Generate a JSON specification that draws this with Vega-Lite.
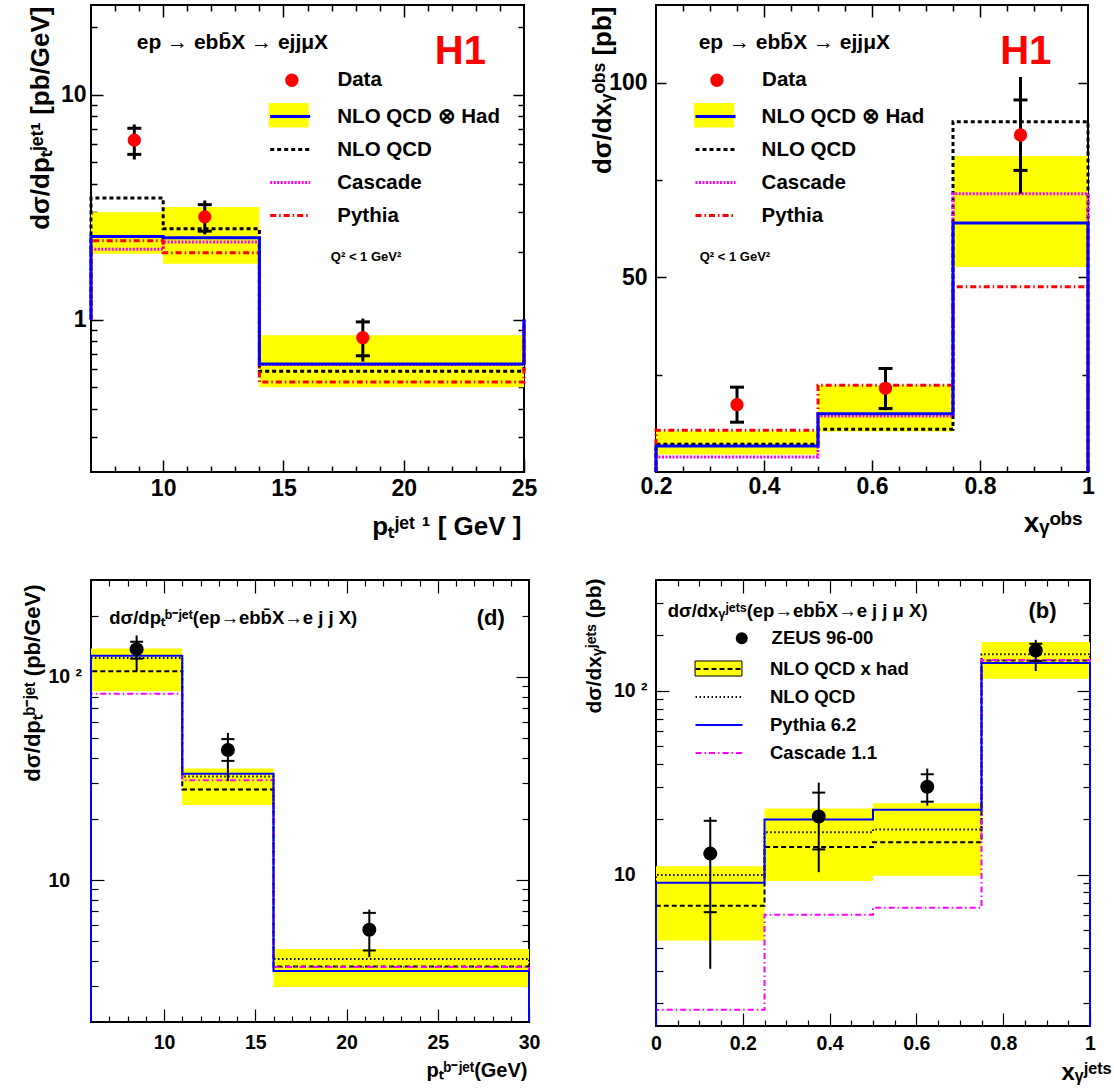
{
"$schema":"https://vega.github.io/schema/vega-lite/v6.json",
"padding":{"left":19,"top":3,"right":0,"bottom":0},
"background":"white",
"config":{
 "font":"Liberation Sans",
 "view":{"stroke":"black","strokeWidth":2},
 "axis":{"domain":false,"grid":false,"tickColor":"black","labelColor":"black","labelFont":"Liberation Sans","labelFontWeight":"bold","titleFont":"Liberation Sans","titleFontWeight":"bold","titleColor":"black","labelFlush":false,"labelOverlap":false,"labelBound":false,"zindex":1},
 "legend":{"labelFont":"Liberation Sans","labelFontWeight":"bold","labelColor":"black","labelLimit":500,"padding":0,"symbolOpacity":1},
 "text":{"font":"Liberation Sans","fontWeight":"bold","color":"black"}
},
"columns":2,
"spacing":{"row":108,"column":127},
"bounds":"flush",
"resolve":{"scale":{"x":"independent","y":"independent","stroke":"independent","strokeDash":"independent","fill":"independent","shape":"independent"},"legend":{"stroke":"independent","strokeDash":"independent","fill":"independent","shape":"independent"},"axis":{"x":"independent","y":"independent"}},
"concat":[
{
 "width":433,"height":467,
 "resolve":{"axis":{"x":"independent","y":"independent"}},
 "layer":[
  {"data":{"name":"aB"},"mark":{"type":"rect","color":"#ffff00"},
   "encoding":{
    "x":{"field":"lo","type":"quantitative","scale":{"domain":[7,25],"nice":false,"zero":false},
      "axis":{"orient":"bottom","values":[10,15,20,25],"format":"d","tickSize":-12,"tickWidth":1.5,"labelPadding":17,"labelFontSize":23,
       "title":"pₜʲᵉᵗ ¹ [ GeV ]","titleFontSize":26,"titleX":430,"titleY":62,"titleAlign":"right","titleBaseline":"alphabetic","titleAngle":0}},
    "x2":{"field":"hi"},
    "y":{"field":"bl","type":"quantitative","scale":{"type":"log","domain":[0.21,25],"nice":false},
      "axis":{"orient":"left","values":[1,10],"format":"d","tickSize":-12,"tickWidth":1.5,"labelPadding":17,"labelFontSize":23,
       "title":"dσ/dpₜʲᵉᵗ¹ [pb/GeV]","titleFontSize":26,"titleX":-43,"titleY":1,"titleAngle":-90,"titleAlign":"right","titleBaseline":"alphabetic"}},
    "y2":{"field":"bh"},
    "fill":{"datum":"NLO QCD ⊗ Had","type":"nominal","scale":{"domain":["NLO QCD ⊗ Had"],"range":["#ffff00"]},
      "legend":{"orient":"none","legendX":177.7,"legendY":90.3,"direction":"vertical","title":null,"symbolType":"M-1,-0.61H1V0.61H-1Z","symbolSize":1600,"symbolStrokeWidth":0,"labelFontSize":20.5,"labelOffset":25.6,"labelExpr":"''"}}
   }},
  {"data":{"name":"aH"},"mark":{"type":"line","interpolate":"step-before","strokeWidth":3},
   "encoding":{
    "x":{"field":"x","type":"quantitative","scale":{"domain":[7,25],"nice":false,"zero":false},
      "axis":{"orient":"bottom","values":[8,9,11,12,13,14,16,17,18,19,21,22,23,24],"tickSize":-6,"tickWidth":1.5,"labels":false,"title":null}},
    "y":{"field":"y","type":"quantitative","scale":{"type":"log","domain":[0.21,25],"nice":false},
      "axis":{"orient":"left","values":[0.3,0.4,0.5,0.6,0.7,0.8,0.9,2,3,4,5,6,7,8,9,20],"tickSize":-6,"tickWidth":1.5,"labels":false,"title":null}},
    "order":{"field":"i","type":"quantitative"},
    "stroke":{"field":"s","type":"nominal","scale":{"domain":["NLO QCD ⊗ Had","NLO QCD","Cascade","Pythia"],"range":["#0000ff","#000000","#ff00ff","#ff0000"]},
      "legend":{"orient":"none","legendX":177.7,"legendY":90,"direction":"vertical","title":null,"symbolType":"stroke","symbolSize":1600,"symbolStrokeWidth":3,"labelFontSize":20.5,"labelOffset":25.6,"rowPadding":1}},
    "strokeDash":{"field":"s","type":"nominal","scale":{"domain":["NLO QCD ⊗ Had","NLO QCD","Cascade","Pythia"],"range":[[1,0],[4,3],[2,1.5],[6,3,1.5,3]]}}
   }},
  {"data":{"name":"aD"},"mark":{"type":"rule","color":"black","strokeWidth":3},
   "encoding":{
    "x":{"field":"x","type":"quantitative","scale":{"domain":[7,25],"nice":false,"zero":false},
      "axis":{"orient":"top","values":[10,15,20],"tickSize":-12,"tickWidth":1.5,"labels":false,"title":null}},
    "y":{"field":"tl","type":"quantitative","scale":{"type":"log","domain":[0.21,25],"nice":false},
      "axis":{"orient":"right","values":[1,10],"tickSize":-11,"tickWidth":1.5,"labels":false,"title":null}},
    "y2":{"field":"th"}
   }},
  {"data":{"name":"aD"},"transform":[{"fold":["sl","sh"],"as":["k","v"]}],
   "mark":{"type":"tick","orient":"horizontal","color":"black","size":14,"thickness":3,"opacity":1},
   "encoding":{
    "x":{"field":"x","type":"quantitative","scale":{"domain":[7,25],"nice":false,"zero":false},
      "axis":{"orient":"top","values":[8,9,11,12,13,14,16,17,18,19,21,22,23,24],"tickSize":-6,"tickWidth":1.5,"labels":false,"title":null}},
    "y":{"field":"v","type":"quantitative","scale":{"type":"log","domain":[0.21,25],"nice":false},
      "axis":{"orient":"right","values":[0.3,0.4,0.5,0.6,0.7,0.8,0.9,2,3,4,5,6,7,8,9,20],"tickSize":-6,"tickWidth":1.5,"labels":false,"title":null}}
   }},
  {"data":{"name":"aD"},"mark":{"type":"point","shape":"circle","filled":true,"color":"#ff0000","size":177,"opacity":1,"strokeWidth":0},
   "encoding":{
    "x":{"field":"x","type":"quantitative","scale":{"domain":[7,25],"nice":false,"zero":false},"axis":null},
    "y":{"field":"y","type":"quantitative","scale":{"type":"log","domain":[0.21,25],"nice":false},"axis":null},
    "shape":{"datum":"Data","type":"nominal","scale":{"domain":["Data"],"range":["circle"]},
      "legend":{"orient":"none","legendX":190.6,"legendY":65,"direction":"vertical","title":null,"symbolSize":177,"symbolFillColor":"#ff0000","symbolStrokeWidth":0,"labelFontSize":20.5,"labelOffset":35.3}}
   }},
  {"data":{"values":[{}]},"mark":{"type":"text","align":"left","baseline":"middle","fontSize":21,"text":"ep → ebb̄X → ejjμX"},
   "encoding":{"x":{"datum":8.9,"type":"quantitative","scale":{"domain":[7,25],"nice":false,"zero":false},"axis":null},
    "y":{"datum":16.9,"type":"quantitative","scale":{"type":"log","domain":[0.21,25],"nice":false},"axis":null}}},
  {"data":{"values":[{}]},"mark":{"type":"text","align":"right","baseline":"middle","fontSize":40,"color":"#ff0000","text":"H1"},
   "encoding":{"x":{"datum":23.42,"type":"quantitative","scale":{"domain":[7,25],"nice":false,"zero":false},"axis":null},
    "y":{"datum":15.45,"type":"quantitative","scale":{"type":"log","domain":[0.21,25],"nice":false},"axis":null}}},
  {"data":{"values":[{}]},"mark":{"type":"text","align":"left","baseline":"middle","fontSize":13,"text":"Q² < 1 GeV²"},
   "encoding":{"x":{"datum":16.97,"type":"quantitative","scale":{"domain":[7,25],"nice":false,"zero":false},"axis":null},
    "y":{"datum":1.89,"type":"quantitative","scale":{"type":"log","domain":[0.21,25],"nice":false},"axis":null}}}
 ]
},
{
 "width":432,"height":467,
 "resolve":{"axis":{"x":"independent","y":"independent"}},
 "layer":[
  {"data":{"name":"bB"},"mark":{"type":"rect","color":"#ffff00"},
   "encoding":{
    "x":{"field":"lo","type":"quantitative","scale":{"domain":[0.2,1],"nice":false,"zero":false},
      "axis":{"orient":"bottom","values":[0.2,0.4,0.6,0.8,1],"format":"~g","tickSize":-12,"tickWidth":1.5,"labelPadding":15,"labelFontSize":23,
       "title":"xᵧᵒᵇˢ","titleFontSize":28,"titleX":426,"titleY":59,"titleAlign":"right","titleBaseline":"alphabetic","titleAngle":0}},
    "x2":{"field":"hi"},
    "y":{"field":"bl","type":"quantitative","scale":{"domain":[0,120],"nice":false,"zero":false},
      "axis":{"orient":"left","values":[50,100],"format":"d","tickSize":-10,"tickWidth":1.5,"labelPadding":19,"labelFontSize":23,
       "title":"dσ/dxᵧᵒᵇˢ  [pb]","titleFontSize":26,"titleX":-46,"titleY":1,"titleAngle":-90,"titleAlign":"right","titleBaseline":"alphabetic"}},
    "y2":{"field":"bh"},
    "fill":{"datum":"NLO QCD ⊗ Had","type":"nominal","scale":{"domain":["NLO QCD ⊗ Had"],"range":["#ffff00"]},
      "legend":{"orient":"none","legendX":38,"legendY":90.3,"direction":"vertical","title":null,"symbolType":"M-1,-0.61H1V0.61H-1Z","symbolSize":1600,"symbolStrokeWidth":0,"labelFontSize":20.5,"labelOffset":24.6,"labelExpr":"''"}}
   }},
  {"data":{"name":"bH"},"mark":{"type":"line","interpolate":"step-before","strokeWidth":3},
   "encoding":{
    "x":{"field":"x","type":"quantitative","scale":{"domain":[0.2,1],"nice":false,"zero":false},
      "axis":{"orient":"bottom","values":[0.25,0.3,0.35,0.45,0.5,0.55,0.65,0.7,0.75,0.85,0.9,0.95],"tickSize":-6,"tickWidth":1.5,"labels":false,"title":null}},
    "y":{"field":"y","type":"quantitative","scale":{"domain":[0,120],"nice":false,"zero":false},
      "axis":{"orient":"left","values":[25,75],"tickSize":-6,"tickWidth":1.5,"labels":false,"title":null}},
    "order":{"field":"i","type":"quantitative"},
    "stroke":{"field":"s","type":"nominal","scale":{"domain":["NLO QCD ⊗ Had","NLO QCD","Cascade","Pythia"],"range":["#0000ff","#000000","#ff00ff","#ff0000"]},
      "legend":{"orient":"none","legendX":38,"legendY":90,"direction":"vertical","title":null,"symbolType":"stroke","symbolSize":1600,"symbolStrokeWidth":3,"labelFontSize":20.5,"labelOffset":24.6,"rowPadding":1}},
    "strokeDash":{"field":"s","type":"nominal","scale":{"domain":["NLO QCD ⊗ Had","NLO QCD","Cascade","Pythia"],"range":[[1,0],[4,3],[2,1.5],[6,3,1.5,3]]}}
   }},
  {"data":{"name":"bD"},"mark":{"type":"rule","color":"black","strokeWidth":3},
   "encoding":{
    "x":{"field":"x","type":"quantitative","scale":{"domain":[0.2,1],"nice":false,"zero":false},
      "axis":{"orient":"top","values":[0.4,0.6,0.8],"tickSize":-12,"tickWidth":1.5,"labels":false,"title":null}},
    "y":{"field":"tl","type":"quantitative","scale":{"domain":[0,120],"nice":false,"zero":false},
      "axis":{"orient":"right","values":[50,100],"tickSize":-10,"tickWidth":1.5,"labels":false,"title":null}},
    "y2":{"field":"th"}
   }},
  {"data":{"name":"bD"},"transform":[{"fold":["sl","sh"],"as":["k","v"]}],
   "mark":{"type":"tick","orient":"horizontal","color":"black","size":14,"thickness":3,"opacity":1},
   "encoding":{
    "x":{"field":"x","type":"quantitative","scale":{"domain":[0.2,1],"nice":false,"zero":false},
      "axis":{"orient":"top","values":[0.25,0.3,0.35,0.45,0.5,0.55,0.65,0.7,0.75,0.85,0.9,0.95],"tickSize":-6,"tickWidth":1.5,"labels":false,"title":null}},
    "y":{"field":"v","type":"quantitative","scale":{"domain":[0,120],"nice":false,"zero":false},
      "axis":{"orient":"right","values":[25,75],"tickSize":-6,"tickWidth":1.5,"labels":false,"title":null}}
   }},
  {"data":{"name":"bD"},"mark":{"type":"point","shape":"circle","filled":true,"color":"#ff0000","size":177,"opacity":1,"strokeWidth":0},
   "encoding":{
    "x":{"field":"x","type":"quantitative","scale":{"domain":[0.2,1],"nice":false,"zero":false},"axis":null},
    "y":{"field":"y","type":"quantitative","scale":{"domain":[0,120],"nice":false,"zero":false},"axis":null},
    "shape":{"datum":"Data","type":"nominal","scale":{"domain":["Data"],"range":["circle"]},
      "legend":{"orient":"none","legendX":50.7,"legendY":65,"direction":"vertical","title":null,"symbolSize":177,"symbolFillColor":"#ff0000","symbolStrokeWidth":0,"labelFontSize":20.5,"labelOffset":34.9}}
   }},
  {"data":{"values":[{}]},"mark":{"type":"text","align":"left","baseline":"middle","fontSize":21,"text":"ep → ebb̄X → ejjμX"},
   "encoding":{"x":{"datum":0.279,"type":"quantitative","scale":{"domain":[0.2,1],"nice":false,"zero":false},"axis":null},
    "y":{"datum":110.2,"type":"quantitative","scale":{"domain":[0,120],"nice":false,"zero":false},"axis":null}}},
  {"data":{"values":[{}]},"mark":{"type":"text","align":"right","baseline":"middle","fontSize":40,"color":"#ff0000","text":"H1"},
   "encoding":{"x":{"datum":0.932,"type":"quantitative","scale":{"domain":[0.2,1],"nice":false,"zero":false},"axis":null},
    "y":{"datum":108,"type":"quantitative","scale":{"domain":[0,120],"nice":false,"zero":false},"axis":null}}},
  {"data":{"values":[{}]},"mark":{"type":"text","align":"left","baseline":"middle","fontSize":13,"text":"Q² < 1 GeV²"},
   "encoding":{"x":{"datum":0.281,"type":"quantitative","scale":{"domain":[0.2,1],"nice":false,"zero":false},"axis":null},
    "y":{"datum":55.2,"type":"quantitative","scale":{"domain":[0,120],"nice":false,"zero":false},"axis":null}}}
 ]
},
{
 "width":438,"height":442,
 "resolve":{"axis":{"x":"independent","y":"independent"}},
 "layer":[
  {"data":{"name":"cB"},"mark":{"type":"rect","color":"#ffff00"},
   "encoding":{
    "x":{"field":"lo","type":"quantitative","scale":{"domain":[6,30],"nice":false,"zero":false},
      "axis":{"orient":"bottom","values":[10,15,20,25,30],"format":"d","tickSize":-13,"tickWidth":1.2,"labelPadding":24,"labelFontSize":19.5,
       "title":"pₜᵇ⁻ʲᵉᵗ(GeV)","titleFontSize":20,"titleX":436,"titleY":54,"titleAlign":"right","titleBaseline":"alphabetic","titleAngle":0}},
    "x2":{"field":"hi"},
    "y":{"field":"bl","type":"quantitative","scale":{"type":"log","domain":[2,300],"nice":false},
      "axis":{"orient":"left","values":[10,100],"labelExpr":"datum.value >= 100 ? '10 ²' : '10'","labelAlign":"left","tickSize":-13,"tickWidth":1.2,"labelPadding":56,"labelFontSize":19.5,
       "title":"dσ/dpₜᵇ⁻ʲᵉᵗ (pb/GeV)","titleFontSize":22,"titleX":-52,"titleY":4,"titleAngle":-90,"titleAlign":"right","titleBaseline":"alphabetic"}},
    "y2":{"field":"bh"}
   }},
  {"data":{"name":"cH"},"mark":{"type":"line","interpolate":"step-before","strokeWidth":2},
   "encoding":{
    "x":{"field":"x","type":"quantitative","scale":{"domain":[6,30],"nice":false,"zero":false},
      "axis":{"orient":"bottom","values":[7,8,9,11,12,13,14,16,17,18,19,21,22,23,24,26,27,28,29],"tickSize":-6,"tickWidth":1.2,"labels":false,"title":null}},
    "y":{"field":"y","type":"quantitative","scale":{"type":"log","domain":[2,300],"nice":false},
      "axis":{"orient":"left","values":[3,4,5,6,7,8,9,20,30,40,50,60,70,80,90,200],"tickSize":-7,"tickWidth":1.2,"labels":false,"title":null}},
    "order":{"field":"i","type":"quantitative"},
    "stroke":{"field":"s","type":"nominal","scale":{"domain":["NLO QCD x had","NLO QCD","Pythia 6.2","Cascade 1.1"],"range":["#000000","#000000","#0000ff","#ff00ff"]},"legend":null},
    "strokeDash":{"field":"s","type":"nominal","scale":{"domain":["NLO QCD x had","NLO QCD","Pythia 6.2","Cascade 1.1"],"range":[[5,3],[1.5,2.5],[1,0],[6,3,1.5,3]]},"legend":null}
   }},
  {"data":{"name":"cD"},"mark":{"type":"rule","color":"black","strokeWidth":2},
   "encoding":{
    "x":{"field":"x","type":"quantitative","scale":{"domain":[6,30],"nice":false,"zero":false},
      "axis":{"orient":"top","values":[10,15,20,25],"tickSize":-13,"tickWidth":1.2,"labels":false,"title":null}},
    "y":{"field":"tl","type":"quantitative","scale":{"type":"log","domain":[2,300],"nice":false},
      "axis":{"orient":"right","values":[10,100],"tickSize":-13,"tickWidth":1.2,"labels":false,"title":null}},
    "y2":{"field":"th"}
   }},
  {"data":{"name":"cD"},"transform":[{"fold":["sl","sh"],"as":["k","v"]}],
   "mark":{"type":"tick","orient":"horizontal","color":"black","size":13,"thickness":2,"opacity":1},
   "encoding":{
    "x":{"field":"x","type":"quantitative","scale":{"domain":[6,30],"nice":false,"zero":false},
      "axis":{"orient":"top","values":[7,8,9,11,12,13,14,16,17,18,19,21,22,23,24,26,27,28,29],"tickSize":-6,"tickWidth":1.2,"labels":false,"title":null}},
    "y":{"field":"v","type":"quantitative","scale":{"type":"log","domain":[2,300],"nice":false},
      "axis":{"orient":"right","values":[3,4,5,6,7,8,9,20,30,40,50,60,70,80,90,200],"tickSize":-7,"tickWidth":1.2,"labels":false,"title":null}}
   }},
  {"data":{"name":"cD"},"mark":{"type":"point","shape":"circle","filled":true,"color":"#000000","size":196,"opacity":1,"strokeWidth":0},
   "encoding":{
    "x":{"field":"x","type":"quantitative","scale":{"domain":[6,30],"nice":false,"zero":false},"axis":null},
    "y":{"field":"y","type":"quantitative","scale":{"type":"log","domain":[2,300],"nice":false},"axis":null}
   }},
  {"data":{"values":[{}]},"mark":{"type":"text","align":"left","baseline":"middle","fontSize":18.5,"text":"dσ/dpₜᵇ⁻ʲᵉᵗ(ep→ebb̄X→e j j X)"},
   "encoding":{"x":{"datum":7.0,"type":"quantitative","scale":{"domain":[6,30],"nice":false,"zero":false},"axis":null},
    "y":{"datum":195,"type":"quantitative","scale":{"type":"log","domain":[2,300],"nice":false},"axis":null}}},
  {"data":{"values":[{}]},"mark":{"type":"text","align":"right","baseline":"middle","fontSize":22,"text":"(d)"},
   "encoding":{"x":{"datum":28.67,"type":"quantitative","scale":{"domain":[6,30],"nice":false,"zero":false},"axis":null},
    "y":{"datum":195,"type":"quantitative","scale":{"type":"log","domain":[2,300],"nice":false},"axis":null}}}
 ]
},
{
 "width":434,"height":446,
 "resolve":{"axis":{"x":"independent","y":"independent"}},
 "layer":[
  {"data":{"name":"dB"},"mark":{"type":"rect","color":"#ffff00"},
   "encoding":{
    "x":{"field":"lo","type":"quantitative","scale":{"domain":[0,1],"nice":false,"zero":false},
      "axis":{"orient":"bottom","values":[0,0.2,0.4,0.6,0.8,1],"format":"~g","tickSize":-13,"tickWidth":1.2,"labelPadding":21,"labelFontSize":19.5,
       "title":"xᵧʲᵉᵗˢ","titleFontSize":24,"titleX":455,"titleY":53,"titleAlign":"right","titleBaseline":"alphabetic","titleAngle":0}},
    "x2":{"field":"hi"},
    "y":{"field":"bl","type":"quantitative","scale":{"type":"log","domain":[1.5,400],"nice":false},
      "axis":{"orient":"left","values":[10,100],"labelExpr":"datum.value >= 100 ? '10 ²' : '10'","labelAlign":"left","tickSize":-13,"tickWidth":1.2,"labelPadding":55.6,"labelFontSize":19.5,
       "title":"dσ/dxᵧʲᵉᵗˢ (pb)","titleFontSize":21,"titleX":-56,"titleY":-2,"titleAngle":-90,"titleAlign":"right","titleBaseline":"alphabetic"}},
    "y2":{"field":"bh"},
    "fill":{"datum":"NLO QCD x had","type":"nominal","scale":{"domain":["NLO QCD x had"],"range":["#ffff00"]},
      "legend":{"orient":"none","legendX":44.5,"legendY":70.5,"direction":"vertical","title":null,"symbolType":"M-1.34,-0.43H1.34V0.43H-1.34Z","symbolSize":1225,"symbolStrokeColor":"#000000","symbolStrokeWidth":1,"labelFontSize":18.5,"labelOffset":32.5,"labelExpr":"''"}}
   }},
  {"data":{"name":"dH"},"mark":{"type":"line","interpolate":"step-before","strokeWidth":2},
   "encoding":{
    "x":{"field":"x","type":"quantitative","scale":{"domain":[0,1],"nice":false,"zero":false},
      "axis":{"orient":"bottom","values":[0.05,0.1,0.15,0.25,0.3,0.35,0.45,0.5,0.55,0.65,0.7,0.75,0.85,0.9,0.95],"tickSize":-6,"tickWidth":1.2,"labels":false,"title":null}},
    "y":{"field":"y","type":"quantitative","scale":{"type":"log","domain":[1.5,400],"nice":false},
      "axis":{"orient":"left","values":[2,3,4,5,6,7,8,9,20,30,40,50,60,70,80,90,200,300],"tickSize":-7,"tickWidth":1.2,"labels":false,"title":null}},
    "order":{"field":"i","type":"quantitative"},
    "stroke":{"field":"s","type":"nominal","scale":{"domain":["NLO QCD x had","NLO QCD","Pythia 6.2","Cascade 1.1"],"range":["#000000","#000000","#0000ff","#ff00ff"]},
      "legend":{"orient":"none","legendX":44.5,"legendY":70.5,"direction":"vertical","title":null,"symbolType":"M-1.34,0H1.34","symbolSize":1225,"symbolStrokeWidth":2,"symbolFillColor":"transparent","labelFontSize":18.5,"labelOffset":32.5,"rowPadding":0}},
    "strokeDash":{"field":"s","type":"nominal","scale":{"domain":["NLO QCD x had","NLO QCD","Pythia 6.2","Cascade 1.1"],"range":[[5,3],[1.5,2.5],[1,0],[6,3,1.5,3]]}}
   }},
  {"data":{"name":"dD"},"mark":{"type":"rule","color":"black","strokeWidth":2},
   "encoding":{
    "x":{"field":"x","type":"quantitative","scale":{"domain":[0,1],"nice":false,"zero":false},
      "axis":{"orient":"top","values":[0.2,0.4,0.6,0.8],"tickSize":-13,"tickWidth":1.2,"labels":false,"title":null}},
    "y":{"field":"tl","type":"quantitative","scale":{"type":"log","domain":[1.5,400],"nice":false},
      "axis":{"orient":"right","values":[10,100],"tickSize":-13,"tickWidth":1.2,"labels":false,"title":null}},
    "y2":{"field":"th"}
   }},
  {"data":{"name":"dD"},"transform":[{"fold":["sl","sh"],"as":["k","v"]}],
   "mark":{"type":"tick","orient":"horizontal","color":"black","size":13,"thickness":2,"opacity":1},
   "encoding":{
    "x":{"field":"x","type":"quantitative","scale":{"domain":[0,1],"nice":false,"zero":false},
      "axis":{"orient":"top","values":[0.05,0.1,0.15,0.25,0.3,0.35,0.45,0.5,0.55,0.65,0.7,0.75,0.85,0.9,0.95],"tickSize":-6,"tickWidth":1.2,"labels":false,"title":null}},
    "y":{"field":"v","type":"quantitative","scale":{"type":"log","domain":[1.5,400],"nice":false},
      "axis":{"orient":"right","values":[2,3,4,5,6,7,8,9,20,30,40,50,60,70,80,90,200,300],"tickSize":-7,"tickWidth":1.2,"labels":false,"title":null}}
   }},
  {"data":{"name":"dD"},"mark":{"type":"point","shape":"circle","filled":true,"color":"#000000","size":196,"opacity":1,"strokeWidth":0},
   "encoding":{
    "x":{"field":"x","type":"quantitative","scale":{"domain":[0,1],"nice":false,"zero":false},"axis":null},
    "y":{"field":"y","type":"quantitative","scale":{"type":"log","domain":[1.5,400],"nice":false},"axis":null},
    "shape":{"datum":"ZEUS 96-00","type":"nominal","scale":{"domain":["ZEUS 96-00"],"range":["circle"]},
      "legend":{"orient":"none","legendX":76.5,"legendY":49,"direction":"vertical","title":null,"symbolSize":144,"symbolFillColor":"#000000","symbolStrokeWidth":0,"labelFontSize":18.5,"labelOffset":20.6}}
   }},
  {"data":{"values":[{}]},"mark":{"type":"text","align":"left","baseline":"middle","fontSize":18.5,"text":"dσ/dxᵧʲᵉᵗˢ(ep→ebb̄X→e j j μ X)"},
   "encoding":{"x":{"datum":0.027,"type":"quantitative","scale":{"domain":[0,1],"nice":false,"zero":false},"axis":null},
    "y":{"datum":271,"type":"quantitative","scale":{"type":"log","domain":[1.5,400],"nice":false},"axis":null}}},
  {"data":{"values":[{}]},"mark":{"type":"text","align":"right","baseline":"middle","fontSize":22,"text":"(b)"},
   "encoding":{"x":{"datum":0.923,"type":"quantitative","scale":{"domain":[0,1],"nice":false,"zero":false},"axis":null},
    "y":{"datum":271,"type":"quantitative","scale":{"type":"log","domain":[1.5,400],"nice":false},"axis":null}}}
 ]
}
],
"datasets":{
 "aB":[{"lo":7,"hi":10,"bl":1.96,"bh":3.0},{"lo":10,"hi":14,"bl":1.77,"bh":3.16},{"lo":14,"hi":25,"bl":0.5,"bh":0.851}],
 "aH":[
  {"s":"NLO QCD","i":0,"x":7,"y":1},{"s":"NLO QCD","i":1,"x":10,"y":3.47},{"s":"NLO QCD","i":2,"x":14,"y":2.53},{"s":"NLO QCD","i":3,"x":25,"y":0.589},{"s":"NLO QCD","i":4,"x":25,"y":1},
  {"s":"Cascade","i":0,"x":7,"y":1},{"s":"Cascade","i":1,"x":10,"y":2.05},{"s":"Cascade","i":2,"x":14,"y":2.21},{"s":"Cascade","i":3,"x":25,"y":0.631},{"s":"Cascade","i":4,"x":25,"y":1},
  {"s":"Pythia","i":0,"x":7,"y":1},{"s":"Pythia","i":1,"x":10,"y":2.24},{"s":"Pythia","i":2,"x":14,"y":1.98},{"s":"Pythia","i":3,"x":25,"y":0.527},{"s":"Pythia","i":4,"x":25,"y":1},
  {"s":"NLO QCD ⊗ Had","i":0,"x":7,"y":1},{"s":"NLO QCD ⊗ Had","i":1,"x":10,"y":2.34},{"s":"NLO QCD ⊗ Had","i":2,"x":14,"y":2.31},{"s":"NLO QCD ⊗ Had","i":3,"x":25,"y":0.635},{"s":"NLO QCD ⊗ Had","i":4,"x":25,"y":1}
 ],
 "aD":[{"x":8.8,"y":6.27,"sl":5.42,"sh":7.08,"tl":5.14,"th":7.36},{"x":11.73,"y":2.86,"sl":2.47,"sh":3.24,"tl":2.39,"th":3.38},{"x":18.3,"y":0.83,"sl":0.69,"sh":0.976,"tl":0.65,"th":1.01}],
 "bB":[{"lo":0.2,"hi":0.5,"bl":4.5,"bh":10.5},{"lo":0.5,"hi":0.75,"bl":10.4,"bh":22.3},{"lo":0.75,"hi":1,"bl":52.7,"bh":81.2}],
 "bH":[
  {"s":"NLO QCD","i":0,"x":0.2,"y":0},{"s":"NLO QCD","i":1,"x":0.5,"y":7.1},{"s":"NLO QCD","i":2,"x":0.75,"y":11.0},{"s":"NLO QCD","i":3,"x":1,"y":90.0},{"s":"NLO QCD","i":4,"x":1,"y":0},
  {"s":"Cascade","i":0,"x":0.2,"y":0},{"s":"Cascade","i":1,"x":0.5,"y":3.85},{"s":"Cascade","i":2,"x":0.75,"y":14.4},{"s":"Cascade","i":3,"x":1,"y":71.5},{"s":"Cascade","i":4,"x":1,"y":0},
  {"s":"Pythia","i":0,"x":0.2,"y":0},{"s":"Pythia","i":1,"x":0.5,"y":10.7},{"s":"Pythia","i":2,"x":0.75,"y":22.3},{"s":"Pythia","i":3,"x":1,"y":47.6},{"s":"Pythia","i":4,"x":1,"y":0},
  {"s":"NLO QCD ⊗ Had","i":0,"x":0.2,"y":0},{"s":"NLO QCD ⊗ Had","i":1,"x":0.5,"y":6.7},{"s":"NLO QCD ⊗ Had","i":2,"x":0.75,"y":15.0},{"s":"NLO QCD ⊗ Had","i":3,"x":1,"y":64.0},{"s":"NLO QCD ⊗ Had","i":4,"x":1,"y":0}
 ],
 "bD":[{"x":0.35,"y":17.3,"sl":12.8,"sh":21.8,"tl":12.8,"th":21.8},{"x":0.625,"y":21.5,"sl":16.3,"sh":26.6,"tl":15.9,"th":27.0},{"x":0.875,"y":86.6,"sl":77.5,"sh":95.6,"tl":71.5,"th":101.5}],
 "cB":[{"lo":6,"hi":11,"bl":84.9,"bh":138},{"lo":11,"hi":16,"bl":23.4,"bh":35.4},{"lo":16,"hi":30,"bl":2.97,"bh":4.57}],
 "cH":[
  {"s":"NLO QCD x had","i":0,"x":6,"y":2},{"s":"NLO QCD x had","i":1,"x":11,"y":106.6},{"s":"NLO QCD x had","i":2,"x":16,"y":27.9},{"s":"NLO QCD x had","i":3,"x":30,"y":3.75},{"s":"NLO QCD x had","i":4,"x":30,"y":2},
  {"s":"NLO QCD","i":0,"x":6,"y":2},{"s":"NLO QCD","i":1,"x":11,"y":124},{"s":"NLO QCD","i":2,"x":16,"y":32.3},{"s":"NLO QCD","i":3,"x":30,"y":4.09},{"s":"NLO QCD","i":4,"x":30,"y":2},
  {"s":"Cascade 1.1","i":0,"x":6,"y":2},{"s":"Cascade 1.1","i":1,"x":11,"y":82.6},{"s":"Cascade 1.1","i":2,"x":16,"y":31.0},{"s":"Cascade 1.1","i":3,"x":30,"y":3.73},{"s":"Cascade 1.1","i":4,"x":30,"y":2},
  {"s":"Pythia 6.2","i":0,"x":6,"y":2},{"s":"Pythia 6.2","i":1,"x":11,"y":127},{"s":"Pythia 6.2","i":2,"x":16,"y":33.4},{"s":"Pythia 6.2","i":3,"x":30,"y":3.57},{"s":"Pythia 6.2","i":4,"x":30,"y":2}
 ],
 "cD":[{"x":8.5,"y":137,"sl":123,"sh":149,"tl":106.6,"th":160},{"x":13.5,"y":43.7,"sl":38.6,"sh":49.4,"tl":30.7,"th":53},{"x":21.25,"y":5.69,"sl":4.5,"sh":6.89,"tl":4.17,"th":7.15}],
 "dB":[{"lo":0,"hi":0.25,"bl":4.38,"bh":11.1},{"lo":0.25,"hi":0.5,"bl":9.21,"bh":22.9},{"lo":0.5,"hi":0.75,"bl":9.84,"bh":24.4},{"lo":0.75,"hi":1,"bl":116,"bh":184}],
 "dH":[
  {"s":"NLO QCD x had","i":0,"x":0,"y":1.5},{"s":"NLO QCD x had","i":1,"x":0.25,"y":6.76},{"s":"NLO QCD x had","i":2,"x":0.5,"y":14.1},{"s":"NLO QCD x had","i":3,"x":0.75,"y":15.0},{"s":"NLO QCD x had","i":4,"x":1,"y":146},{"s":"NLO QCD x had","i":5,"x":1,"y":1.5},
  {"s":"NLO QCD","i":0,"x":0,"y":1.5},{"s":"NLO QCD","i":1,"x":0.25,"y":9.93},{"s":"NLO QCD","i":2,"x":0.5,"y":17.0},{"s":"NLO QCD","i":3,"x":0.75,"y":17.6},{"s":"NLO QCD","i":4,"x":1,"y":158},{"s":"NLO QCD","i":5,"x":1,"y":1.5},
  {"s":"Cascade 1.1","i":0,"x":0,"y":1.5},{"s":"Cascade 1.1","i":1,"x":0.25,"y":1.84},{"s":"Cascade 1.1","i":2,"x":0.5,"y":6.04},{"s":"Cascade 1.1","i":3,"x":0.75,"y":6.6},{"s":"Cascade 1.1","i":4,"x":1,"y":147},{"s":"Cascade 1.1","i":5,"x":1,"y":1.5},
  {"s":"Pythia 6.2","i":0,"x":0,"y":1.5},{"s":"Pythia 6.2","i":1,"x":0.25,"y":9.02},{"s":"Pythia 6.2","i":2,"x":0.5,"y":19.9},{"s":"Pythia 6.2","i":3,"x":0.75,"y":22.5},{"s":"Pythia 6.2","i":4,"x":1,"y":141.6},{"s":"Pythia 6.2","i":5,"x":1,"y":1.5}
 ],
 "dD":[{"x":0.125,"y":13.0,"sl":6.24,"sh":19.6,"tl":3.07,"th":20.5},{"x":0.375,"y":20.7,"sl":13.7,"sh":27.9,"tl":10.3,"th":31.6},{"x":0.625,"y":30.0,"sl":24.9,"sh":35.1,"tl":23.7,"th":37.7},{"x":0.875,"y":165.5,"sl":145,"sh":180,"tl":128,"th":189}]
}
}
